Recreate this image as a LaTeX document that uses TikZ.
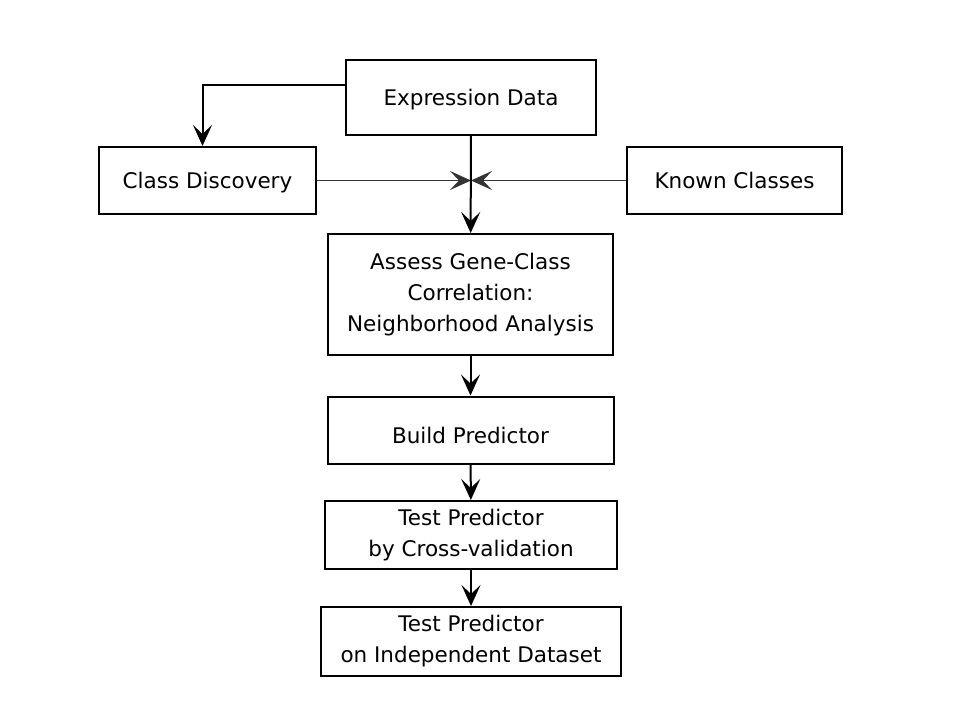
\documentclass[tikz,border=0pt]{standalone}
\usepackage{fontspec}
\setmainfont{DejaVu Sans}
\usetikzlibrary{arrows.meta}
\tikzstyle{block} = [rectangle, draw, line width=2pt, inner sep=0pt,
    align=center, font=\fontsize{21.5}{31}\selectfont]
\tikzstyle{single} = [block, text height=19pt, text depth=3pt]
\tikzstyle{line} = [draw, line width=2pt,
    -{Stealth[length=21pt, width=19pt, inset=9pt]}]
\tikzstyle{thin line} = [line, line width=1.3pt, draw=black!80]

\begin{document}
\begin{tikzpicture}[x=1pt, y=-1pt]
    \useasboundingbox (0,0) rectangle (956,717);
    % Place nodes
    \node [single, minimum width=250pt, minimum height=75pt] (expr) at (471,97.5) {Expression Data};
    \node [single, minimum width=217pt, minimum height=67pt] (discovery) at (207.5,180.5) {Class Discovery};
    \node [single, minimum width=215pt, minimum height=67pt] (known) at (734.5,180.5) {Known Classes};
    \node [block, minimum width=285pt, minimum height=121pt] (assess) at (470.5,294.5)
        {Assess Gene-Class\\Correlation:\\Neighborhood Analysis};
    \node [single, text height=26pt, text depth=0pt, minimum width=286pt, minimum height=67pt] (build) at (470.5,430) {Build Predictor};
    \node [block, minimum width=292pt, minimum height=68pt] (cross) at (471,535)
        {Test Predictor\\by Cross-validation};
    \node [block, minimum width=300pt, minimum height=69pt] (indep) at (471,641.5)
        {Test Predictor\\on Independent Dataset};
    \coordinate (junc) at (expr.south |- discovery.east);
    % Draw edges
    \path [line] ([yshift=12.5pt]expr.west) -| ([xshift=-5pt]discovery.north);
    \path [thin line] (discovery) -- (junc);
    \path [thin line] (known) -- (junc);
    \path [line] (expr) -- (assess);
    \path [line] (assess) -- (build);
    \path [line] (build) -- (cross);
    \path [line] (cross) -- (indep);
\end{tikzpicture}
\end{document}
